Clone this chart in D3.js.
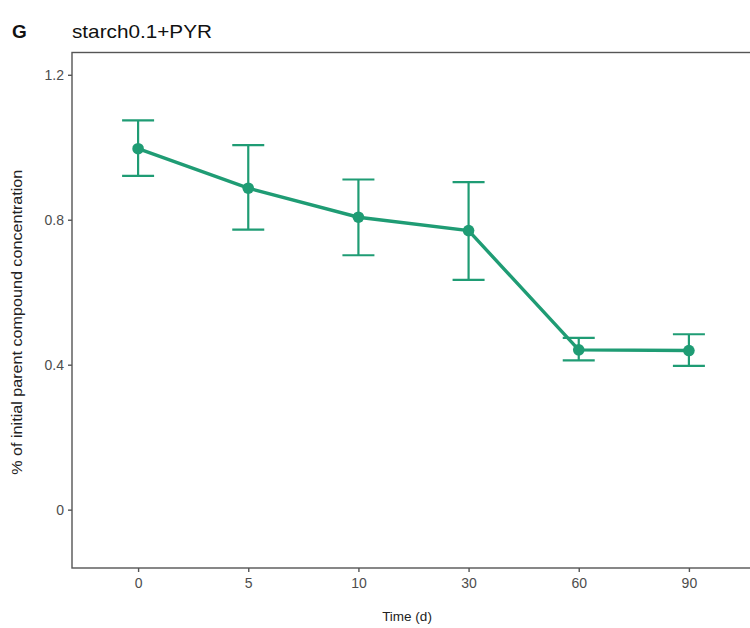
<!DOCTYPE html>
<html>
<head>
<meta charset="utf-8">
<script src="https://cdn.jsdelivr.net/npm/d3@7"></script>
<style>
  html, body { margin: 0; padding: 0; background: #fff; }
  svg { display: block; font-family: "Liberation Sans", Arial, sans-serif; }
</style>
</head>
<body>
<svg id="chart" width="750" height="628"></svg>
<script>
// Sampling times (days) and the remaining parent compound fraction
const timeLabels = ["0", "5", "10", "30", "60", "90"];
const meanValues = [0.996, 0.887, 0.807, 0.770, 0.441, 0.439];
const upperValues = [1.074, 1.006, 0.911, 0.904, 0.474, 0.484];
const lowerValues = [0.921, 0.773, 0.702, 0.634, 0.412, 0.397];
const yTicks = [0, 0.4, 0.8, 1.2];

const lineColor = "#1f9c74";
const axisColor = "#4d4d4d";

const svg = d3.select("#chart");
const panel = { left: 72, top: 52.5, right: 755, bottom: 568 };

const x = d3.scalePoint()
  .domain(timeLabels)
  .range([panel.left, panel.right])
  .padding(0.6);

const y = d3.scaleLinear()
  .domain([-0.161, 1.2615])
  .range([panel.bottom, panel.top]);

const data = timeLabels.map((t, i) => ({
  t, mean: meanValues[i], hi: upperValues[i], lo: lowerValues[i]
}));

// panel border
svg.append("rect")
  .attr("x", panel.left).attr("y", panel.top)
  .attr("width", panel.right - panel.left)
  .attr("height", panel.bottom - panel.top)
  .attr("fill", "none")
  .attr("stroke", "#555")
  .attr("stroke-width", 1.4);

// axes
const yAxis = d3.axisLeft(y).tickValues(yTicks).tickSize(4).tickPadding(4)
  .tickFormat(d => d === 0 ? "0" : d3.format(".1f")(d));
const gy = svg.append("g").attr("transform", `translate(${panel.left},0)`).call(yAxis);
gy.select(".domain").remove();

const xAxis = d3.axisBottom(x).tickSize(4).tickPadding(6);
const gx = svg.append("g").attr("transform", `translate(0,${panel.bottom})`).call(xAxis);
gx.select(".domain").remove();

[gx, gy].forEach(g => {
  g.selectAll("line").attr("stroke", "#555").attr("stroke-width", 1.4);
  g.selectAll("text").attr("fill", axisColor).style("font-size", "14px");
});

// error bars
const capHalf = 16;
const bars = svg.append("g").attr("stroke", lineColor).attr("stroke-width", 2.2).attr("fill", "none");
data.forEach(d => {
  const cx = x(d.t);
  bars.append("line").attr("x1", cx).attr("x2", cx).attr("y1", y(d.hi)).attr("y2", y(d.lo));
  bars.append("line").attr("x1", cx - capHalf).attr("x2", cx + capHalf).attr("y1", y(d.hi)).attr("y2", y(d.hi));
  bars.append("line").attr("x1", cx - capHalf).attr("x2", cx + capHalf).attr("y1", y(d.lo)).attr("y2", y(d.lo));
});

// mean line and points
svg.append("path")
  .datum(data)
  .attr("fill", "none")
  .attr("stroke", lineColor)
  .attr("stroke-width", 3.4)
  .attr("d", d3.line().x(d => x(d.t)).y(d => y(d.mean)));

svg.append("g").selectAll("circle")
  .data(data).join("circle")
  .attr("cx", d => x(d.t))
  .attr("cy", d => y(d.mean))
  .attr("r", 5.8)
  .attr("fill", lineColor);

// titles
svg.append("text").attr("x", 12).attr("y", 37.5)
  .style("font-size", "19px").style("font-weight", "bold").attr("fill", "#111").text("G");
svg.append("text").attr("x", 72).attr("y", 37.5)
  .style("font-size", "18.5px").attr("fill", "#111")
  .attr("textLength", 140).attr("lengthAdjust", "spacingAndGlyphs")
  .text("starch0.1+PYR");

svg.append("text")
  .attr("x", 407).attr("y", 621)
  .attr("text-anchor", "middle")
  .style("font-size", "13.5px").attr("fill", "#222")
  .text("Time (d)");

svg.append("text")
  .attr("transform", `translate(22,${(panel.top + panel.bottom) / 2 + 12}) rotate(-90)`)
  .attr("text-anchor", "middle")
  .style("font-size", "14px").attr("fill", "#222")
  .attr("textLength", 305).attr("lengthAdjust", "spacingAndGlyphs")
  .text("% of initial parent compound concentration");
</script>
</body>
</html>
